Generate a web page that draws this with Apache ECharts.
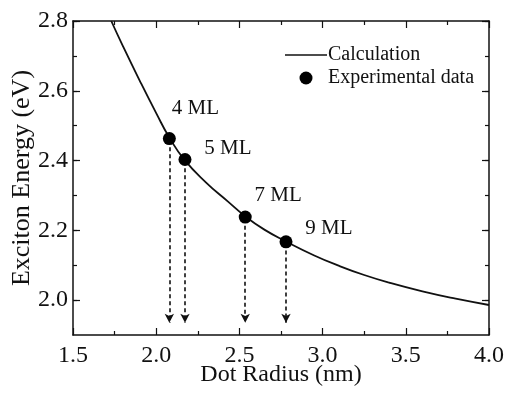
<!DOCTYPE html>
<html>
<head>
<meta charset="utf-8">
<script src="https://cdn.jsdelivr.net/npm/echarts@6/dist/echarts.min.js"></script>
<style>
  html, body { margin: 0; padding: 0; background: #fff; }
  #main { width: 507px; height: 394px; }
</style>
</head>
<body>
<div id="main"></div>
<script>
// calculated curve
var curveRadius = [1.73, 1.80, 1.90, 2.00, 2.08, 2.17, 2.30, 2.43, 2.535, 2.65, 2.78, 2.95, 3.10, 3.25, 3.40, 3.60, 3.80, 4.00];
var curveEnergy = [2.800, 2.728, 2.630, 2.536, 2.465, 2.402, 2.337, 2.283, 2.240, 2.202, 2.168, 2.128, 2.098, 2.072, 2.050, 2.025, 2.004, 1.986];

// experimental points
var expNames = ["4 ML", "5 ML", "7 ML", "9 ML"];
var expRadius = [2.079, 2.173, 2.535, 2.78];
var expEnergy = [2.463, 2.403, 2.238, 2.167];

var xTicks = [1.5, 2.0, 2.5, 3.0, 3.5, 4.0];
var yTicks = [2.0, 2.2, 2.4, 2.6, 2.8];
var yMinorTicks = [2.0, 2.1, 2.2, 2.3, 2.4, 2.5, 2.6, 2.7, 2.8];

var arrowBottom = 1.935;

// label offsets in px (style)
var labelOffsets = [[26, -8], [43, 11], [33, 0], [43, 9]];

var font = "Liberation Serif";
var ink = "#111";

var chart = echarts.init(document.getElementById("main"));

function xAxisCfg(pos, showLabel) {
  return {
    type: "value",
    position: pos,
    min: 1.5,
    max: 4.0,
    interval: 0.5,
    axisLine: { onZero: false, lineStyle: { color: ink, width: 1.5 } },
    axisTick: { inside: true, length: 7, lineStyle: { color: ink, width: 1.2 } },
    minorTick: { show: true, splitNumber: 2, length: 4, lineStyle: { color: ink, width: 1.2 } },
    splitLine: { show: false },
    axisLabel: {
      show: showLabel,
      margin: 9,
      color: ink,
      fontFamily: font,
      fontSize: 24,
      formatter: function (v) { return v.toFixed(1); }
    }
  };
}

function yAxisCfg(pos, showLabel, major) {
  var cfg = {
    type: "value",
    position: pos,
    min: 1.9,
    max: 2.8,
    interval: 0.1,
    axisLine: { show: major, onZero: false, lineStyle: { color: ink, width: 1.5 } },
    axisTick: { inside: true, length: major ? 7 : 4, lineStyle: { color: ink, width: 1.2 } },
    splitLine: { show: false },
    axisLabel: { show: false }
  };
  cfg.axisTick.customValues = major ? yTicks : yMinorTicks;
  if (showLabel) {
    cfg.axisLabel = {
      show: true,
      customValues: yTicks,
      margin: 5,
      color: ink,
      fontFamily: font,
      fontSize: 24,
      formatter: function (v) { return v.toFixed(1); }
    };
    cfg.name = "Exciton Energy (eV)";
    cfg.nameLocation = "middle";
    cfg.nameGap = 38;
    cfg.nameMoveOverlap = false;
    cfg.nameTextStyle = { color: ink, fontFamily: font, fontSize: 26 };
  }
  return cfg;
}

var xBottom = xAxisCfg("bottom", true);
xBottom.name = "Dot Radius (nm)";
xBottom.nameLocation = "middle";
xBottom.nameGap = 28;
xBottom.nameMoveOverlap = false;
xBottom.nameTextStyle = { color: ink, fontFamily: font, fontSize: 24 };

var option = {
  backgroundColor: "#fff",
  animation: false,
  grid: { left: 73, top: 21, right: 18, bottom: 59, outerBoundsMode: "none", containLabel: false },
  legend: {
    left: 280,
    top: 40,
    orient: "vertical",
    itemGap: 3,
    itemWidth: 42,
    itemHeight: 13,
    textStyle: { color: ink, fontFamily: font, fontSize: 20, padding: [0, 0, 0, -4] },
    data: [
      { name: "Calculation", icon: "path://M0,0H42V1.6H0Z" },
      { name: "Experimental data", icon: "circle" }
    ]
  },
  xAxis: [xBottom, xAxisCfg("top", false)],
  yAxis: [
    yAxisCfg("left", true, true),
    yAxisCfg("left", false, false),
    yAxisCfg("right", false, true),
    yAxisCfg("right", false, false)
  ],
  series: [
    {
      name: "Calculation",
      type: "line",
      smooth: true,
      symbol: "none",
      clip: true,
      lineStyle: { color: ink, width: 1.8 },
      itemStyle: { color: ink },
      data: curveRadius.map(function (r, i) { return [r, curveEnergy[i]]; })
    },
    {
      name: "Experimental data",
      type: "scatter",
      symbol: "circle",
      symbolSize: 13,
      itemStyle: { color: "#000", opacity: 1 },
      z: 5,
      data: expRadius.map(function (r, i) {
        return {
          value: [r, expEnergy[i]],
          label: {
            show: true,
            formatter: expNames[i],
            position: "top",
            offset: labelOffsets[i],
            color: ink,
            opacity: 1,
            fontFamily: font,
            fontSize: 21
          }
        };
      }),
      markLine: {
        silent: true,
        symbol: ["none", "arrow"],
        symbolSize: [7, 9],
        label: { show: false },
        lineStyle: { color: ink, type: [4, 3], width: 1.6, opacity: 1 },
        data: expRadius.map(function (r, i) {
          return [
            { coord: [r, expEnergy[i] - 0.025] },
            { coord: [r, arrowBottom] }
          ];
        })
      }
    }
  ]
};

chart.setOption(option);
</script>
</body>
</html>
